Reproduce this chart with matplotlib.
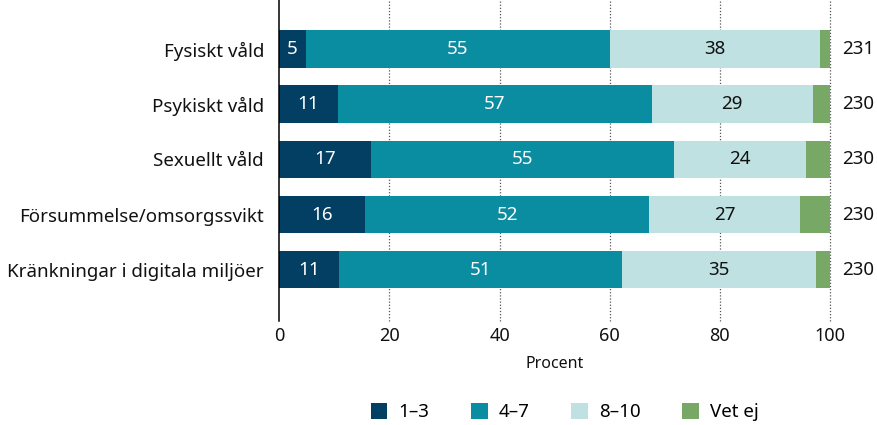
import matplotlib
matplotlib.use("Agg")
import matplotlib.pyplot as plt
import numpy as np
from matplotlib.patches import Patch

plt.rcParams['font.family'] = ['Noto Sans', 'DejaVu Sans']

categories = ["Fysiskt våld", "Psykiskt våld", "Sexuellt våld", "Försummelse/omsorgssvikt",
              "Kränkningar i digitala miljöer"]
v_1_3 = [4.8, 10.6, 16.6, 15.6, 10.8]
v_4_7 = [55.2, 57.0, 55.0, 51.6, 51.4]
v_8_10 = [38.1, 29.3, 24.1, 27.3, 35.2]
v_vetej = [1.9, 3.1, 4.3, 5.5, 2.6]
n_values = ["231", "230", "230", "230", "230"]
series_names = ["1–3", "4–7", "8–10", "Vet ej"]
colors = ["#023f62", "#0a8ca1", "#bfe1e2", "#78a866"]
label_colors = ["white", "white", "#111111", None]
xticks = [0, 20, 40, 60, 80, 100]

fig = plt.figure(figsize=(8.77, 4.25), dpi=100)
ax = fig.add_axes([279.3 / 877, 1 - 310 / 425, (830 - 279.3) / 877, 310 / 425])

y = np.arange(len(categories))
left = np.zeros(len(categories))
for vals, col, lc in zip([v_1_3, v_4_7, v_8_10, v_vetej], colors, label_colors):
    vals = np.array(vals)
    ax.barh(y, vals, left=left, height=0.68, color=col, zorder=3)
    if lc is not None:
        for yi, (l, v) in enumerate(zip(left, vals)):
            ax.text(l + v / 2, yi, f"{round(v)}", ha="center", va="center",
                    color=lc, fontsize=13.5, zorder=4)
    left = left + vals

for yi, n in enumerate(n_values):
    ax.text(102.2, yi, n, ha="left", va="center", fontsize=13.5, color="#111111")

ax.set_ylim(4.73, -0.89)
ax.set_xlim(0, 100)
ax.set_yticks(y)
ax.set_yticklabels(categories, fontsize=13.5, color="#111111")
ax.tick_params(axis="y", length=0, pad=11)
ax.set_xticks(xticks)
ax.set_xticklabels([str(t) for t in xticks], fontsize=13, color="#111111")
ax.tick_params(axis="x", length=0, pad=12)

for t in xticks[1:]:
    ax.plot([t, t], [4.93, -0.89], color="#555555", linestyle=(0, (1, 1.5)),
            linewidth=0.9, zorder=1, clip_on=False)
ax.plot([0, 0], [4.93, -0.89], color="black", linewidth=1.1, zorder=5, clip_on=False)

for s in ax.spines.values():
    s.set_visible(False)

ax.set_xlabel("Procent", fontsize=11.5, color="#111111", labelpad=8)

handles = [Patch(facecolor=c, edgecolor="none") for c in colors]
fig.legend(handles, series_names, loc="center", bbox_to_anchor=(0.644, 0.03),
           ncol=4, frameon=False, fontsize=13.5, handlelength=0.9, handleheight=0.9,
           handletextpad=0.6, columnspacing=2.2)

fig.savefig("out.png", dpi=100)
